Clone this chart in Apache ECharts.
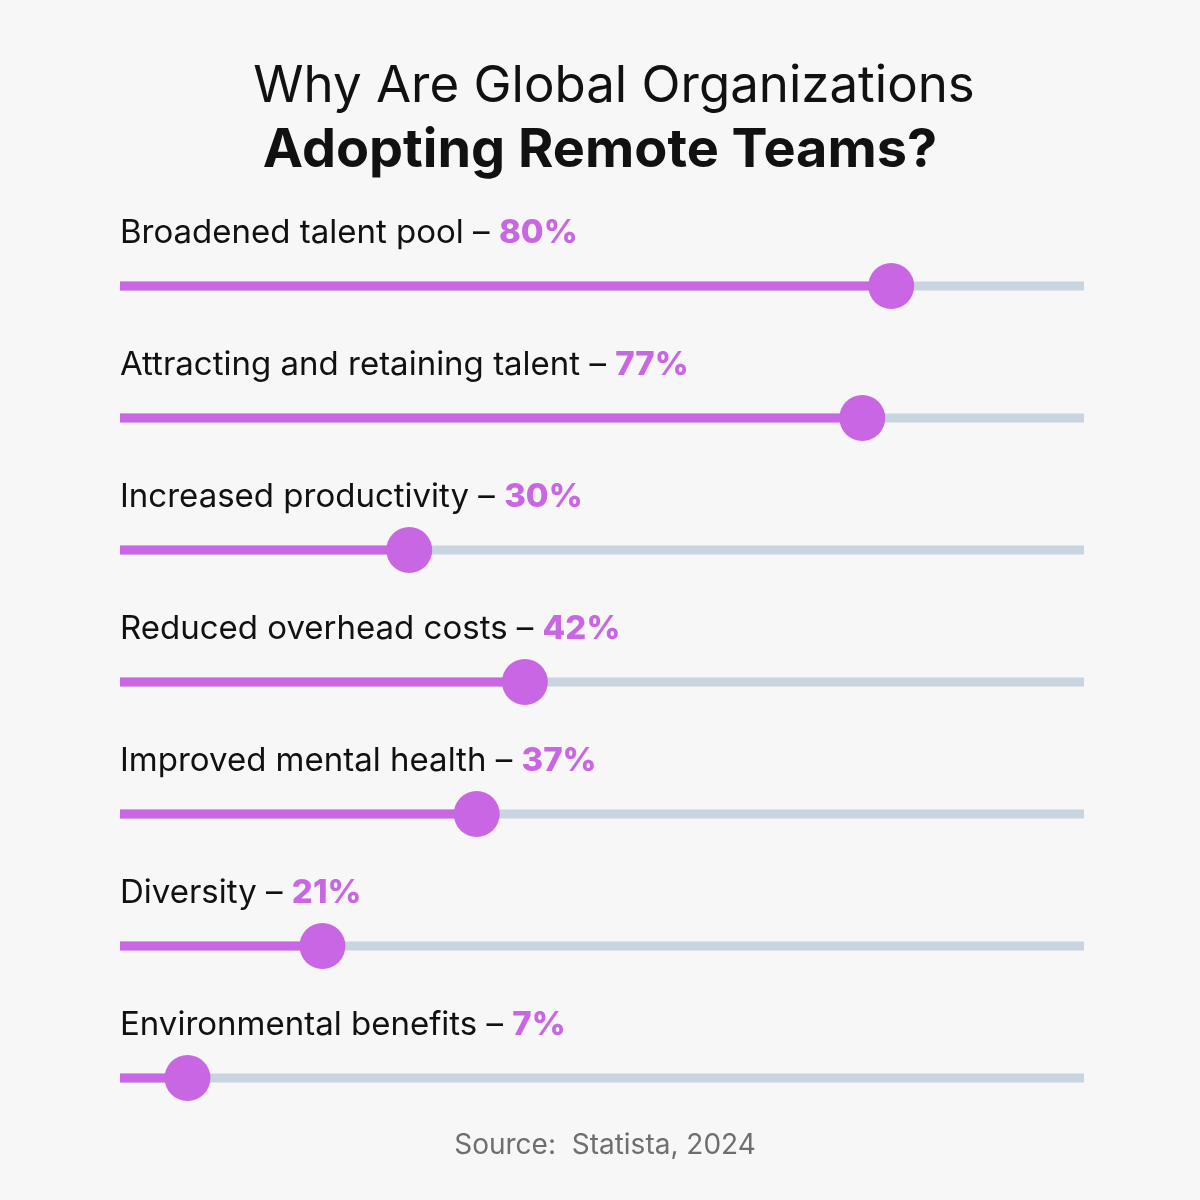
<!DOCTYPE html>
<html>
<head>
<meta charset="utf-8">
<script src="https://cdn.jsdelivr.net/npm/echarts@6/dist/echarts.min.js"></script>
<style>
  html, body { margin: 0; padding: 0; background: #f7f7f7; }
  #chart { width: 1200px; height: 1200px; }
</style>
</head>
<body>
<div id="chart"></div>
<script>
const reasons = [
  "Broadened talent pool",
  "Attracting and retaining talent",
  "Increased productivity",
  "Reduced overhead costs",
  "Improved mental health",
  "Diversity",
  "Environmental benefits"
];
const shares = [80, 77, 30, 42, 37, 21, 7];

const purple = "#c966e3";
const track = "#c8d4e0";
const font = "Inter";

const chart = echarts.init(document.getElementById("chart"));

const option = {
  backgroundColor: "#f7f7f7",
  animation: false,
  title: [
    {
      text: "Why Are Global Organizations",
      left: 609,
      textAlign: "center",
      top: 56,
      textStyle: { fontFamily: font, fontSize: 51, fontWeight: 400, color: "#111" }
    },
    {
      text: "Adopting Remote Teams?",
      left: 595,
      textAlign: "center",
      top: 119,
      textStyle: { fontFamily: font, fontSize: 54, fontWeight: 700, color: "#111" }
    },
    {
      text: "Source:  Statista, 2024",
      left: 600,
      textAlign: "center",
      top: 1127,
      textStyle: { fontFamily: font, fontSize: 28, fontWeight: 400, color: "#6e6e6e" }
    }
  ],
  grid: { left: 120, right: 116, top: 220, bottom: 56 },
  xAxis: {
    type: "value",
    min: 0,
    max: 100,
    show: false
  },
  yAxis: {
    type: "category",
    data: reasons,
    inverse: true,
    show: false
  },
  series: [
    {
      type: "bar",
      data: shares,
      barWidth: 9,
      itemStyle: { color: purple },
      showBackground: true,
      backgroundStyle: { color: track, opacity: 1 },
      label: {
        show: true,
        position: [0, -48],
        align: "left",
        verticalAlign: "middle",
        formatter: (p) => "{n|" + p.name + " – }{v|" + p.value + "%}",
        rich: {
          n: { fontFamily: font, fontSize: 33, fontWeight: 400, color: "#111" },
          v: { fontFamily: font, fontSize: 33, fontWeight: 800, color: purple }
        }
      },
      z: 2
    },
    {
      type: "scatter",
      data: shares.map((v, i) => [v, reasons[i]]),
      symbolSize: 46,
      itemStyle: { color: purple, opacity: 1 },
      z: 3
    }
  ]
};

chart.setOption(option);
</script>
</body>
</html>
